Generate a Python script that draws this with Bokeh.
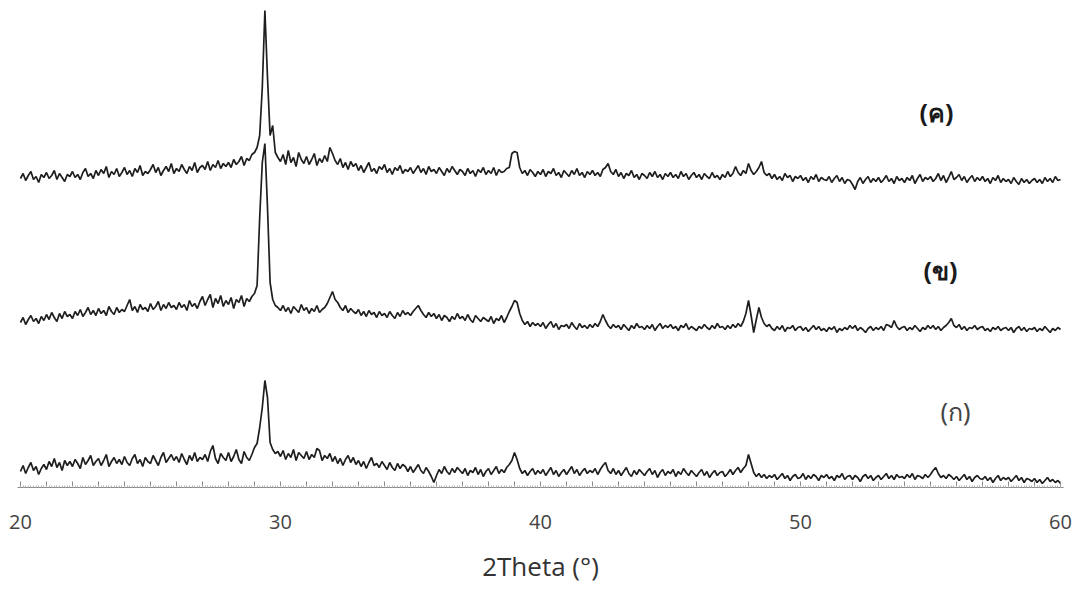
from bokeh.plotting import figure
from bokeh.models import ColumnDataSource, FixedTicker, Label
from bokeh.embed import file_html
from bokeh.resources import INLINE

# Relative intensities (arbitrary units), one reading per 0.1 degree,
# one row per degree starting at 20.0
trace_c = [  # (ค)
    19, 24, 17, 22, 26, 18, 21, 15, 23, 20,
    25, 19, 22, 27, 18, 24, 20, 16, 23, 21,
    26, 20, 23, 18, 25, 29, 21, 24, 19, 27,
    22, 28, 24, 31, 20, 26, 23, 29, 21, 25,
    30, 23, 27, 21, 29, 25, 32, 22, 26, 24,
    28, 33, 25, 30, 22, 27, 31, 26, 34, 24,
    29, 26, 33, 28, 24, 31, 27, 35, 25, 30,
    32, 28, 36, 27, 33, 30, 37, 29, 34, 31,
    35, 30, 38, 33, 36, 41, 32, 39, 37, 43,
    45, 50, 62, 110, 187, 120, 62, 72, 45, 40,
    36, 43, 33, 47, 35, 40, 31, 45, 38, 34,
    41, 33, 38, 44, 32, 39, 35, 42, 36, 50,
    44, 37, 33, 39, 30, 35, 28, 36, 31, 34,
    27, 32, 25, 30, 35, 26, 29, 24, 31, 28,
    33, 25, 29, 23, 30, 27, 32, 24, 28, 26,
    30, 24, 28, 32, 25, 29, 23, 31, 26, 28,
    24, 30, 26, 22, 29, 25, 31, 27, 23, 28,
    26, 22, 29, 24, 27, 21, 28, 25, 30, 23,
    27, 24, 30, 22, 28, 25, 26, 29, 30, 44,
    46, 45, 30, 24, 27, 22, 28, 25, 21, 26,
    23, 28, 21, 26, 24, 29, 22, 25, 20, 27,
    24, 21, 27, 23, 29, 22, 25, 20, 26, 23,
    27, 22, 25, 21, 28, 30, 34, 26, 23, 28,
    21, 25, 19, 24, 22, 27, 20, 23, 18, 24,
    22, 19, 25, 21, 26, 20, 23, 18, 24, 21,
    25, 20, 23, 19, 26, 21, 24, 18, 22, 25,
    20, 23, 18, 24, 21, 19, 25, 20, 22, 18,
    23, 20, 26, 21, 24, 31, 25, 22, 27, 24,
    34, 27, 23, 26, 30, 36, 25, 22, 24, 19,
    23, 18, 21, 17, 24, 20, 22, 16, 21, 19,
    22, 17, 20, 15, 21, 18, 23, 16, 20, 18,
    17, 21, 15, 19, 22, 16, 20, 14, 18, 17,
    13, 8, 16, 20, 14, 18, 21, 15, 19, 16,
    20, 15, 18, 22, 16, 19, 14, 21, 17, 19,
    15, 20, 17, 22, 14, 19, 23, 16, 20, 18,
    21, 16, 19, 24, 17, 22, 15, 20, 26, 18,
    20, 23, 17, 21, 15, 19, 22, 16, 20, 17,
    21, 16, 19, 14, 20, 17, 22, 15, 19, 16,
    18, 14, 20, 16, 13, 19, 15, 18, 14, 17,
    19, 15, 18, 14, 20, 16, 19, 15, 21, 17,
    18,
]
trace_b = [  # (ข)
    15, 20, 13, 18, 22, 16, 19, 14, 21, 17,
    23, 18, 25, 20, 16, 24, 19, 26, 21, 23,
    19, 26, 22, 28, 21, 25, 30, 23, 27, 22,
    29, 24, 27, 22, 31, 26, 23, 30, 25, 28,
    26, 32, 38, 27, 31, 25, 33, 28, 30, 26,
    34, 28, 31, 36, 27, 33, 29, 35, 30, 32,
    28, 35, 30, 33, 27, 37, 31, 34, 29, 36,
    41, 32, 38, 43, 30, 39, 34, 42, 31, 37,
    33, 40, 29, 38, 35, 42, 31, 39, 36, 41,
    44, 52, 120, 175, 194, 130, 55, 38, 32, 30,
    27, 32, 26, 30, 24, 31, 28, 25, 33, 27,
    30, 24, 29, 26, 32, 25, 28, 30, 34, 40,
    46, 38, 35, 30, 27, 32, 25, 29, 26, 24,
    28, 22, 26, 21, 27, 23, 25, 20, 26, 22,
    24, 20, 26, 22, 19, 25, 21, 27, 23, 25,
    22, 26, 29, 32, 27, 23, 20, 25, 21, 24,
    19, 23, 17, 22, 20, 16, 21, 18, 24, 19,
    21, 17, 23, 18, 15, 22, 19, 16, 20, 18,
    16, 21, 14, 19, 17, 22, 15, 20, 26, 31,
    37, 35, 24, 17, 13, 16, 11, 15, 12, 14,
    11, 15, 9, 13, 16, 10, 14, 8, 12, 11,
    13, 9, 15, 11, 8, 14, 10, 12, 9, 13,
    10, 14, 11, 16, 23, 17, 12, 9, 13, 10,
    12, 8, 13, 10, 7, 12, 9, 14, 10, 11,
    8, 12, 9, 13, 7, 11, 14, 9, 12, 10,
    13, 9, 11, 7, 12, 10, 14, 8, 11, 9,
    7, 11, 9, 13, 10, 8, 12, 9, 14, 10,
    11, 8, 12, 9, 13, 10, 14, 11, 16, 24,
    37, 22, 5, 18, 30, 20, 14, 11, 13, 9,
    7, 11, 8, 12, 6, 10, 9, 12, 7, 10,
    11, 7, 10, 6, 9, 12, 8, 11, 7, 9,
    6, 10, 8, 11, 5, 9, 7, 10, 8, 12,
    9, 12, 7, 10, 8, 5, 9, 11, 7, 10,
    8, 11, 7, 13, 12, 10, 17, 11, 8, 10,
    11, 7, 10, 8, 12, 9, 6, 10, 8, 12,
    9, 12, 8, 11, 7, 10, 12, 15, 19, 12,
    10, 13, 8, 11, 7, 10, 9, 12, 8, 10,
    11, 7, 9, 6, 10, 8, 11, 7, 9, 10,
    7, 10, 5, 9, 11, 7, 10, 6, 9, 8,
    10, 6, 9, 7, 11, 8, 5, 9, 7, 10,
    8,
]
trace_a = [  # (ก)
    16, 22, 14, 20, 25, 17, 21, 13, 19, 23,
    18, 26, 21, 29, 20, 25, 17, 27, 22, 26,
    21, 28, 24, 19, 30, 23, 27, 32, 22, 26,
    29, 22, 27, 33, 21, 26, 30, 24, 28, 23,
    31, 25, 22, 29, 33, 24, 28, 21, 30, 26,
    24, 32, 27, 22, 30, 35, 25, 29, 33, 27,
    31, 25, 34, 28, 23, 32, 27, 35, 26, 30,
    28, 33, 26, 36, 42, 29, 24, 34, 30, 27,
    35, 26, 31, 38, 28, 24, 36, 30, 27, 33,
    40, 44, 60, 80, 107, 90, 45, 38, 34, 36,
    31, 37, 28, 34, 30, 38, 27, 35, 32, 29,
    36, 28, 33, 30, 39, 37, 27, 32, 29, 34,
    26, 31, 24, 29, 22, 28, 32, 25, 30, 23,
    27, 21, 26, 19, 25, 30, 22, 24, 20, 26,
    22, 18, 25, 20, 17, 24, 19, 23, 21, 16,
    21, 15, 19, 23, 17, 14, 20, 16, 11, 5,
    12, 18, 14, 21, 16, 13, 19, 15, 20, 17,
    14, 19, 12, 17, 15, 20, 13, 18, 11, 16,
    19, 13, 17, 21, 14, 18, 15, 20, 23, 27,
    35, 28, 19, 14, 17, 12, 16, 19, 13, 17,
    14, 18, 12, 16, 20, 13, 17, 11, 15, 18,
    13, 17, 21, 14, 18, 12, 16, 19, 14, 17,
    15, 19, 13, 18, 22, 25, 17, 14, 19, 13,
    17, 12, 16, 20, 14, 11, 17, 13, 18, 15,
    12, 16, 19, 13, 17, 10, 15, 18, 12, 16,
    14, 18, 11, 16, 13, 19, 15, 12, 17, 14,
    11, 15, 18, 12, 16, 10, 14, 17, 12, 15,
    16, 11, 14, 18, 13, 17, 20, 15, 19, 22,
    33, 24, 15, 11, 14, 10, 13, 9, 12, 10,
    13, 8, 11, 14, 9, 12, 7, 11, 13, 9,
    10, 14, 8, 12, 9, 13, 11, 7, 12, 10,
    13, 9, 11, 7, 12, 10, 14, 8, 11, 12,
    8, 12, 10, 6, 11, 13, 9, 12, 7, 10,
    12, 8, 11, 14, 9, 12, 8, 13, 10, 11,
    9, 13, 10, 14, 8, 12, 11, 9, 13, 10,
    13, 17, 20, 14, 10, 12, 9, 13, 11, 8,
    11, 7, 10, 13, 8, 11, 6, 10, 12, 9,
    8, 11, 7, 10, 5, 9, 12, 7, 10, 8,
    10, 6, 9, 12, 7, 10, 5, 9, 8, 6,
    9, 5, 8, 4, 7, 10, 6, 8, 5, 7,
    4,
]
# 2Theta grid (degrees): 20.0 .. 60.0, one reading every 0.1 degree
two_theta = [round(20 + 0.1 * i, 1) for i in range(401)]
trace_names = ["(ก)", "(ข)", "(ค)"]
tick_values = [20, 30, 40, 50, 60]
x_label = "2Theta (°)"

assert len(trace_a) == len(trace_b) == len(trace_c) == len(two_theta), (
    len(trace_a), len(trace_b), len(trace_c))

# vertical stacking offsets (layout only)
offsets = [0, 150, 290]

p = figure(frame_width=1046, frame_height=479, output_backend="svg", toolbar_location=None,
           x_range=(19.885, 60.115), y_range=(0, 479),
           min_border_left=17, min_border_right=12, min_border_top=8, min_border_bottom=96)
p.outline_line_color = None
p.grid.visible = False
p.yaxis.visible = False
p.background_fill_color = "white"

for vals, off in zip([trace_a, trace_b, trace_c], offsets):
    src = ColumnDataSource(dict(x=two_theta, y=[v + off for v in vals]))
    p.line("x", "y", source=src, line_color="#1e1e1e", line_width=1.7)

label_pos = [(55.96, 77), (55.38, 218), (55.23, 376)]
label_style = [("normal", "#444444", "Noto Sans"), ("bold", "#1a1a1a", "Noto Sans"),
               ("bold", "#1a1a1a", "Noto Sans")]
for name, (lx, ly), (fs, col, fnt) in zip(trace_names, label_pos, label_style):
    p.add_layout(Label(x=lx, y=ly, text=name, text_align="center", text_baseline="middle",
                       text_font=fnt, text_font_size="25px", text_font_style=fs,
                       text_color=col))

ax = p.xaxis[0]
ax.ticker = FixedTicker(ticks=list(range(20, 61)),
                        minor_ticks=[round(20 + 0.1 * i, 1) for i in range(401)])
ax.major_label_overrides = {t: (str(t) if t in tick_values else "") for t in range(20, 61)}
ax.axis_line_color = "#8a8a8a"
ax.axis_line_width = 1
ax.major_tick_line_color = "#8a8a8a"
ax.minor_tick_line_color = "#b4b4b4"
ax.major_tick_in = 6
ax.major_tick_out = 0
ax.minor_tick_in = 2
ax.minor_tick_out = 0
ax.major_label_standoff = 27
ax.major_label_text_font = "Open Sans"
ax.major_label_text_font_size = "20px"
ax.major_label_text_color = "#444444"
ax.axis_label = x_label
ax.axis_label_text_font = "Open Sans"
ax.axis_label_text_font_size = "26px"
ax.axis_label_text_font_style = "normal"
ax.axis_label_text_color = "#333333"
ax.axis_label_standoff = 16

open("out.html", "w").write(file_html(p, INLINE))
